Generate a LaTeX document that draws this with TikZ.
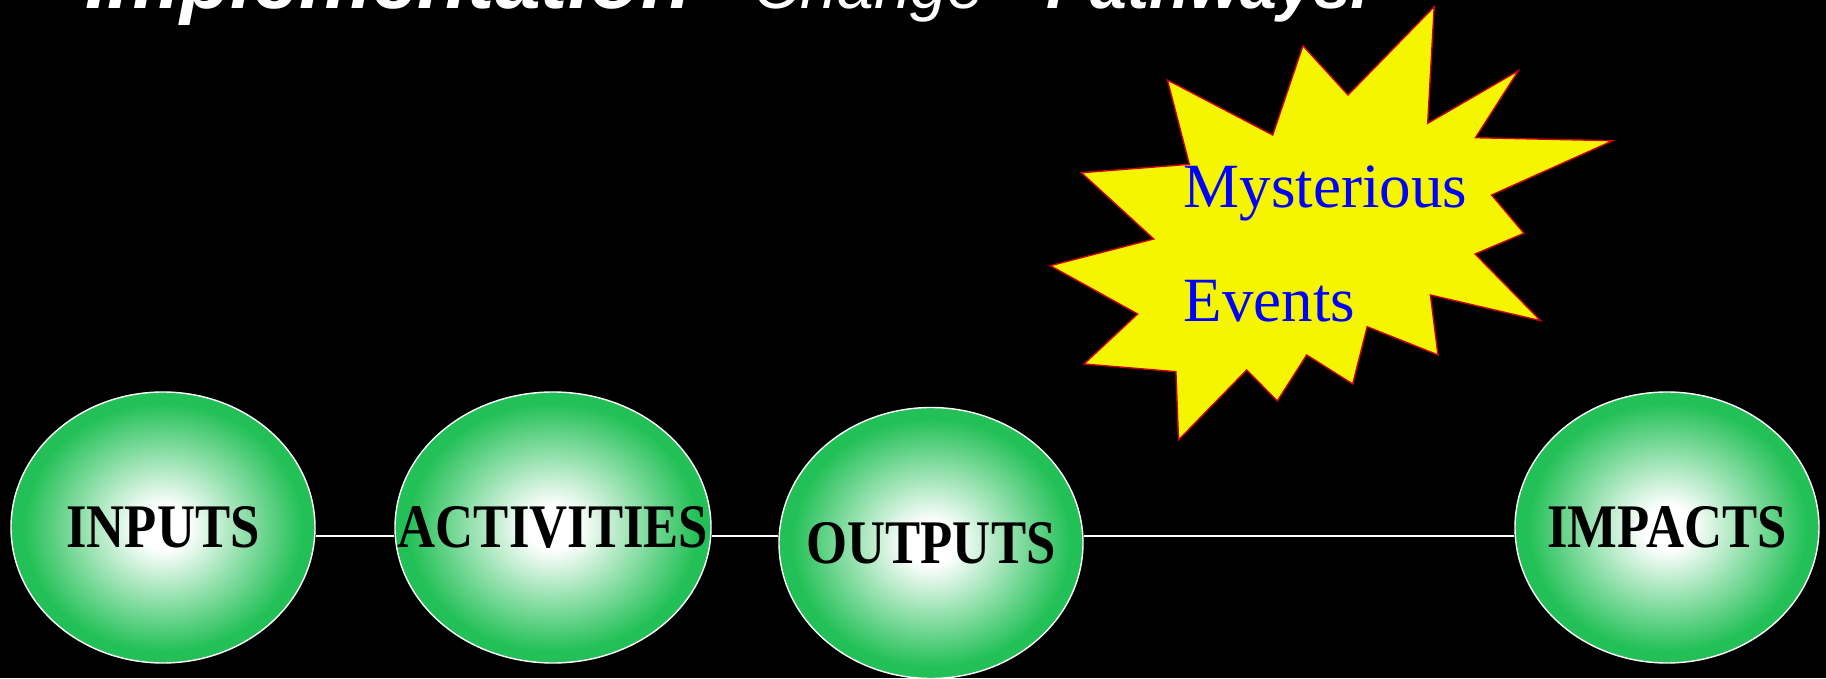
\documentclass[tikz,border=0pt]{standalone}
\usepackage{fontspec}
\setmainfont{Liberation Serif}
\newfontfamily\stagefont{Liberation Serif}[FakeStretch=0.85]
\newfontfamily\titlefont{Liberation Sans}
\usetikzlibrary{shapes.geometric}
\definecolor{eggreen}{RGB}{34,192,86}
\definecolor{burstyellow}{RGB}{245,245,0}
\definecolor{burstred}{RGB}{200,0,30}
\pgfdeclareradialshading{eggshade}{\pgfpoint{0bp}{0bp}}{color(0bp)=(white); color(4bp)=(white); color(23bp)=(eggreen); color(50bp)=(eggreen)}
\tikzstyle{stage} = [ellipse, draw=white, line width=1.4pt, shading=eggshade, minimum width=304pt, minimum height=271pt, inner sep=0pt, text=black, font=\stagefont\bfseries\fontsize{62}{62}\selectfont]
\tikzstyle{link} = [draw=white, line width=2pt]
\tikzstyle{burst} = [fill=burstyellow, draw=burstred, line width=1.4pt, line join=miter]
\tikzstyle{eventtext} = [text=blue, align=left, inner sep=0pt, font=\fontsize{63}{113.7}\selectfont]
\tikzstyle{headline} = [text=white, inner sep=0pt, anchor=base west, font=\titlefont\itshape\fontsize{66}{66}\selectfont]

\begin{document}
\begin{tikzpicture}[x=1pt, y=1pt, node distance=390pt]
	\fill [black, use as bounding box] (0,0) rectangle (1826,678);
	\begin{scope}
	\clip (0,0) rectangle (1826,678);
	\node (title) [headline] at (85,669) {{\bfseries\fontsize{82}{82}\selectfont Implementation}\hspace{62pt}Change\hspace{62pt}{\bfseries Pathways.}};
	\end{scope}
	%burst
	\draw [burst] (1167.4,598) -- (1272.7,543) -- (1302.9,632.3) -- (1348,583) -- (1434.2,671.3) -- (1427.7,554.7) -- (1518.4,607.3) -- (1475.5,540.3) -- (1612.9,537.3) -- (1491.6,483) -- (1524,444.7) -- (1475.1,424) -- (1540.6,357.3) -- (1430.4,383) -- (1438,323) -- (1367.2,351.3) -- (1352.7,294) -- (1306.7,323) -- (1277.3,277) -- (1246.7,308) -- (1178.5,238) -- (1175.9,306.3) -- (1084,314) -- (1137.6,364) -- (1050.3,412.3) -- (1153.7,439) -- (1081.3,505.3) -- (1189.3,513.7) -- cycle;
	\node (events) [eventtext, anchor=base west] at (1183.5,356.3) {Mysterious\\Events};
	%stages
	\node (inputs) [stage] at (163,150.5) {\makebox[0pt]{INPUTS}};
	\node (activities) [stage, right of=inputs, minimum width=316pt] {\makebox[0pt]{ACTIVITIES}};
	\node (outputs) [stage, right of=activities, xshift=-12pt, yshift=-15.5pt] {\makebox[0pt]{OUTPUTS}};
	\node (impacts) [stage, right of=outputs, xshift=346pt, yshift=15.5pt] {\makebox[0pt]{IMPACTS}};
	%lines
	\draw [link] ([yshift=-8pt]inputs.east) -- ([yshift=-8pt]activities.west);
	\draw [link] ([yshift=-8pt]activities.east) -- ([yshift=-8pt]activities.east -| outputs.west);
	\draw [link] ([yshift=-8pt]impacts.west) -- ([yshift=-8pt]impacts.west -| outputs.east);
\end{tikzpicture}
\end{document}
